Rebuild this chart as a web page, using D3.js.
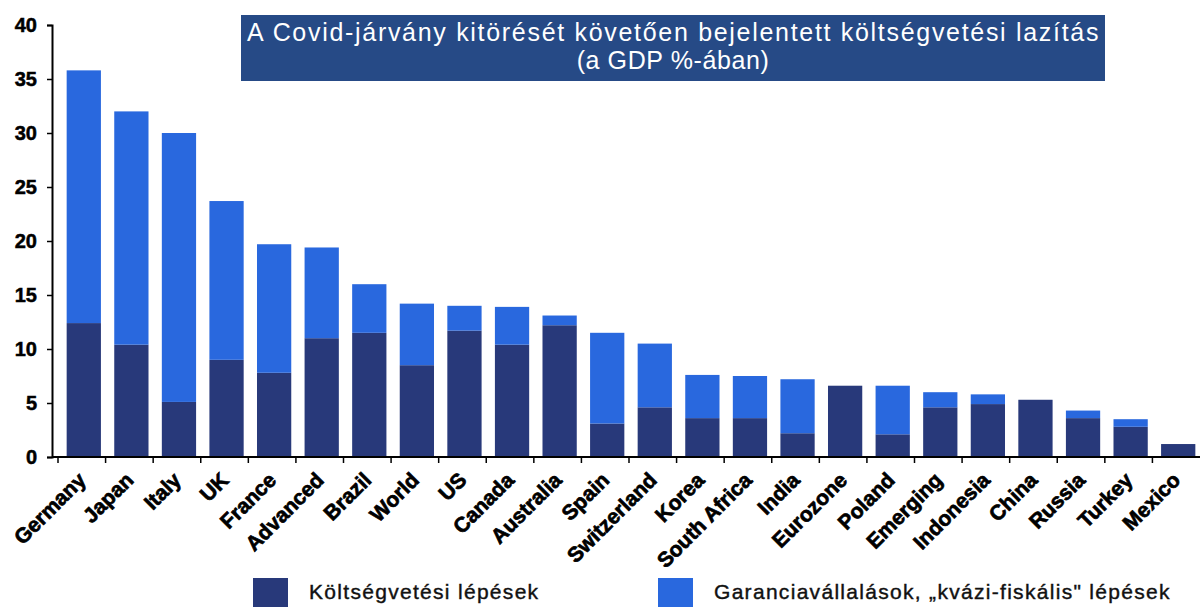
<!DOCTYPE html>
<html>
<head>
<meta charset="utf-8">
<script src="https://cdn.jsdelivr.net/npm/d3@7.9.0/dist/d3.min.js"></script>
<style>
  body { margin: 0; background: #fff; }
  svg { display: block; font-family: "Liberation Sans", Arial, sans-serif; }
</style>
</head>
<body>
<svg id="chart" width="1200" height="607"></svg>
<script>
// Categories and series values (% of GDP)
const countries = ['Germany', 'Japan', 'Italy', 'UK', 'France', 'Advanced', 'Brazil', 'World', 'US',
  'Canada', 'Australia', 'Spain', 'Switzerland', 'Korea', 'South Africa', 'India', 'Eurozone',
  'Poland', 'Emerging', 'Indonesia', 'China', 'Russia', 'Turkey', 'Mexico'];
// Költségvetési lépések (dark)
const budget = [12.4, 10.4, 5.1, 9.0, 7.8, 11.0, 11.5, 8.5, 11.7, 10.4, 12.2, 3.1, 4.6, 3.6, 3.6, 2.2,
  6.6, 2.1, 4.6, 4.9, 5.3, 3.6, 2.8, 1.2];
// Garanciavállalások, "kvázi-fiskális" lépések (light)
const guarantees = [23.4, 21.6, 24.9, 14.7, 11.9, 8.4, 4.5, 5.7, 2.3, 3.5, 0.9, 8.4, 5.9, 4.0, 3.9, 5.0,
  0, 4.5, 1.4, 0.9, 0, 0.7, 0.7, 0];
const yTicks = [0, 5, 10, 15, 20, 25, 30, 35, 40];
const seriesNames = ['Költségvetési lépések', 'Garanciavállalások, \u201Ekvázi-fiskális" lépések'];
const colors = ['#28397a', '#2968de'];
const titleLines = ['A Covid-járvány kitörését követően bejelentett költségvetési lazítás', '(a GDP %-ában)'];

const svg = d3.select('#chart');

const rows = countries.map((c, i) => ({ country: c, budget: budget[i], guarantees: guarantees[i] }));
const stack = d3.stack().keys(['budget', 'guarantees'])(rows);

const x = d3.scaleBand()
  .domain(countries)
  .range([60, 1202])
  .paddingInner(0.28)
  .paddingOuter(0.14);

const y = d3.scaleLinear().domain([0, 40]).range([457, 25]);

// bars
svg.append('g')
  .selectAll('g')
  .data(stack)
  .join('g')
  .attr('fill', (d, i) => colors[i])
  .selectAll('rect')
  .data(d => d)
  .join('rect')
  .attr('x', d => x(d.data.country))
  .attr('width', x.bandwidth())
  .attr('y', d => y(d[1]))
  .attr('height', d => y(d[0]) - y(d[1]));

// y axis
const yAxis = svg.append('g')
  .attr('transform', 'translate(52,0)')
  .call(d3.axisLeft(y).tickValues(yTicks).tickSize(5).tickPadding(10));
yAxis.select('.domain').attr('stroke', '#000').attr('stroke-width', 2);
yAxis.selectAll('.tick line').attr('stroke', '#000').attr('stroke-width', 1.5);
yAxis.selectAll('.tick text')
  .attr('font-size', 20).attr('font-weight', 'bold').attr('fill', '#000')
  .attr('stroke', '#000').attr('stroke-width', 0.5)
  .attr('font-family', '"Liberation Sans", Arial, sans-serif');

// x axis line and ticks at band boundaries
const step = x.step();
const x0 = x.range()[0];
svg.append('line')
  .attr('x1', 52).attr('x2', 1200)
  .attr('y1', y(0)).attr('y2', y(0))
  .attr('stroke', '#000').attr('stroke-width', 2);
svg.append('g')
  .selectAll('line')
  .data(d3.range(countries.length))
  .join('line')
  .attr('x1', i => x0 + i * step - 2)
  .attr('x2', i => x0 + i * step - 2)
  .attr('y1', y(0)).attr('y2', y(0) + 6)
  .attr('stroke', '#000').attr('stroke-width', 1.5);

// rotated category labels
svg.append('g')
  .selectAll('text')
  .data(countries)
  .join('text')
  .attr('transform', d => `translate(${x(d) + x.bandwidth() / 2 - 7},${y(0) + 14}) rotate(-45)`)
  .attr('text-anchor', 'end')
  .attr('dy', '0.7em')
  .attr('font-size', 21)
  .attr('font-weight', 'bold')
  .attr('fill', '#000')
  .attr('stroke', '#000')
  .attr('stroke-width', 0.7)
  .text(d => d);

// title box
svg.append('rect')
  .attr('x', 241).attr('y', 15)
  .attr('width', 864).attr('height', 66)
  .attr('fill', '#264a86');
svg.append('g')
  .selectAll('text')
  .data(titleLines)
  .join('text')
  .attr('x', 673)
  .attr('y', (d, i) => 41 + i * 28)
  .attr('text-anchor', 'middle')
  .attr('fill', '#fff')
  .attr('font-size', 25)
  .attr('letter-spacing', 0.6)
  .each(function(d, i) {
    if (i === 0) d3.select(this).attr('textLength', 852).attr('lengthAdjust', 'spacing');
  })
  .text(d => d);

// legend
const legend = svg.append('g')
  .selectAll('g')
  .data(seriesNames)
  .join('g')
  .attr('transform', (d, i) => `translate(${[253, 658][i]},578)`);
legend.append('rect')
  .attr('width', 35).attr('height', 30)
  .attr('fill', (d, i) => colors[i]);
legend.append('text')
  .attr('x', 56).attr('y', 21)
  .attr('font-size', 21)
  .attr('letter-spacing', 1.3)
  .attr('fill', '#111')
  .attr('stroke', '#111')
  .attr('stroke-width', 0.4)
  .text(d => d);
</script>
</body>
</html>
